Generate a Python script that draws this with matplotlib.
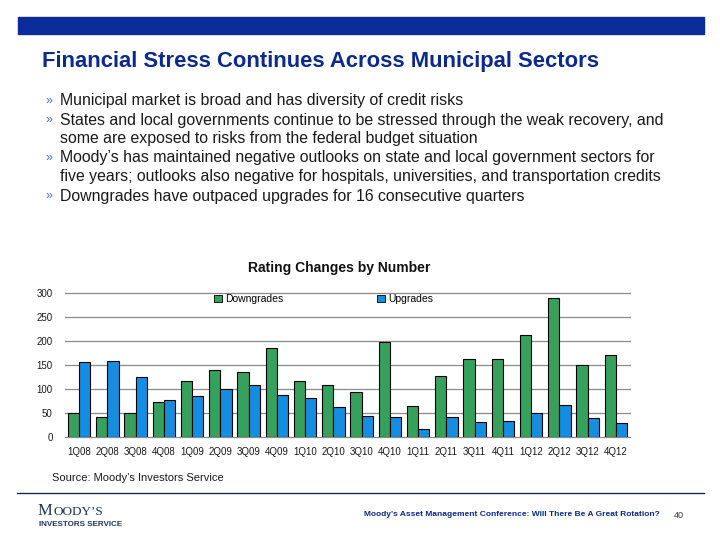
import matplotlib
matplotlib.use("Agg")
import matplotlib.pyplot as plt
from matplotlib.patches import Patch, Rectangle
from matplotlib.lines import Line2D
import numpy as np

plt.rcParams['font.family'] = ['Liberation Sans', 'DejaVu Sans']

quarters = ["1Q08", "2Q08", "3Q08", "4Q08", "1Q09", "2Q09", "3Q09", "4Q09",
            "1Q10", "2Q10", "3Q10", "4Q10", "1Q11", "2Q11", "3Q11", "4Q11",
            "1Q12", "2Q12", "3Q12", "4Q12"]
downgrades = [50, 42, 49, 73, 117, 140, 136, 185, 117, 108,
              94, 197, 65, 127, 163, 163, 212, 290, 150, 171]
upgrades = [156, 159, 124, 78, 86, 101, 108, 88, 82, 63,
            44, 42, 17, 42, 32, 34, 51, 67, 40, 29]
yticks = [0, 50, 100, 150, 200, 250, 300]

bullets = [
    "Municipal market is broad and has diversity of credit risks",
    "States and local governments continue to be stressed through the weak recovery, and\nsome are exposed to risks from the federal budget situation",
    "Moody\u2019s has maintained negative outlooks on state and local government sectors for\nfive years; outlooks also negative for hospitals, universities, and transportation credits",
    "Downgrades have outpaced upgrades for 16 consecutive quarters",
]

green = "#35a15c"
blue = "#158de0"
navy = "#0a2a8c"

W, H = 720, 540
fig = plt.figure(figsize=(7.2, 5.4), dpi=100)

def fx(px):
    return px / W

def fy(py):
    return 1 - py / H

# header band
fig.patches.append(Rectangle((fx(18), fy(34)), fx(704) - fx(18), (34 - 17) / H,
                             transform=fig.transFigure, color="#0a2d99", zorder=0))
fig.text(fx(42), fy(61), "Financial Stress Continues Across Municipal Sectors",
         fontsize=15.8, fontweight="bold", color=navy, va="center", ha="left")

# bullet list
y = 101
for b in bullets:
    lines = b.split("\n")
    fig.text(fx(45), fy(y), "\u00bb", fontsize=9, color="#3a6fd0", va="center")
    for ln in lines:
        fig.text(fx(60), fy(y), ln, fontsize=11.4, color="#1a1a1a", va="center")
        y += 19

# chart
ax = fig.add_axes([fx(65), fy(437), fx(630) - fx(65), (437 - 293) / H])
x = np.arange(len(quarters))
w = 0.4
ax.bar(x - w / 2, downgrades, w, color=green, edgecolor="black", linewidth=0.8, zorder=3)
ax.bar(x + w / 2, upgrades, w, color=blue, edgecolor="black", linewidth=0.8, zorder=3)
ax.set_xlim(-0.5, len(quarters) - 0.5)
ax.set_ylim(0, 300)
ax.set_yticks(yticks)
ax.set_xticks(x)
ax.set_xticklabels(quarters)
ax.tick_params(length=0, labelsize=7, colors="#1a1a1a")
ax.tick_params(axis="y", pad=9)
ax.tick_params(axis="x", pad=7)
for s in ax.spines.values():
    s.set_visible(False)
ax.yaxis.grid(True, color="#8a8a8a", linewidth=0.9)
ax.set_axisbelow(True)
for gl in ax.get_ygridlines():
    gl.set_clip_on(False)

fig.text(fx(339), fy(268), "Rating Changes by Number", fontsize=10,
         fontweight="bold", ha="center", va="center", color="#111111")

handles = [Patch(facecolor=green, edgecolor="black", linewidth=0.6),
           Patch(facecolor=blue, edgecolor="black", linewidth=0.6)]
fig.legend(handles, ["Downgrades", "Upgrades"], loc="center left",
           bbox_to_anchor=(fx(214), fy(299)), ncol=2, frameon=False,
           fontsize=7.5, handlelength=0.75, handleheight=0.75,
           handletextpad=0.3, columnspacing=9.0, borderpad=0, borderaxespad=0)

fig.text(fx(52), fy(478), "Source: Moody\u2019s Investors Service", fontsize=8,
         color="#1a1a1a", va="center")

# footer
fig.add_artist(Line2D([fx(17), fx(704)], [fy(493), fy(493)], color="#1c2b4f",
                      linewidth=1.0, transform=fig.transFigure))
fig.text(fx(38), fy(511), "M", fontsize=12, family="Liberation Serif",
         color="#1f3560", va="center")
fig.text(fx(53.5), fy(512), "OODY\u2019S", fontsize=9.5, family="Liberation Serif",
         color="#1f3560", va="center")
fig.text(fx(39), fy(524), "INVESTORS SERVICE", fontsize=5.8, fontweight="bold",
         color="#1f3560", va="center")
fig.text(fx(364), fy(515),
         "Moody\u2019s Asset Management Conference: Will There Be A Great Rotation?",
         fontsize=6, fontweight="bold", color=navy, va="center")
fig.text(fx(674), fy(515), "40", fontsize=6.5, color="#333333", va="center")

fig.savefig("out.png", dpi=100)
